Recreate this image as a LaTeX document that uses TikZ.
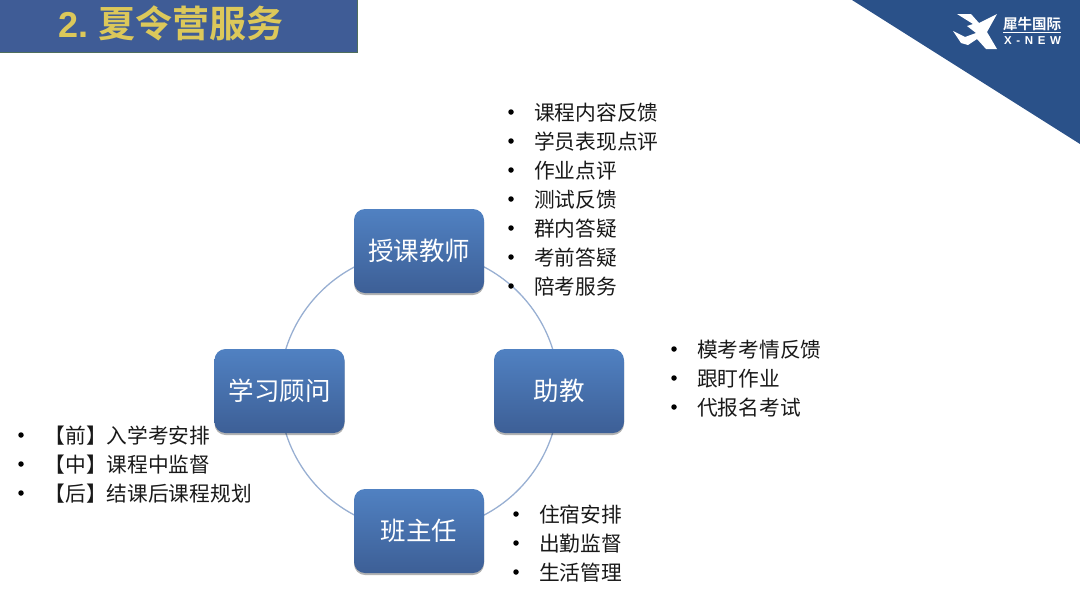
\documentclass[tikz,border=0pt]{standalone}
\usepackage{fontspec}
\setmainfont{Noto Sans CJK SC}
\newfontfamily\latinbold[Scale=1]{Liberation Sans}
\usetikzlibrary{shadows,backgrounds}
\definecolor{titlefill}{HTML}{3F5C96}
\definecolor{titleedge}{HTML}{4F6E5C}
\definecolor{titlegold}{HTML}{DCC85A}
\definecolor{cornerblue}{HTML}{2A5189}
\definecolor{ringblue}{HTML}{98AFD2}
\definecolor{boxtop}{HTML}{5081C2}
\definecolor{boxbot}{HTML}{3D5F96}
\tikzset{
  role/.style={rounded corners=11pt,minimum width=130pt,minimum height=84pt,inner sep=0pt,
    top color=boxtop,bottom color=boxbot,draw=none,text=white,
    font=\fontsize{25.5pt}{30pt}\selectfont,
    drop shadow={shadow xshift=0pt,shadow yshift=-2pt,opacity=.3,fill=black}},
  ring/.style={draw=ringblue,line width=1.3pt},
  item/.style={anchor=west,inner sep=0pt,text=black!90,font=\fontsize{20.7pt}{24pt}\selectfont},
  dot/.style={circle,fill=black,inner sep=0pt,minimum size=5.5pt}
}
\begin{document}
\begin{tikzpicture}[x=1pt,y=-1pt]
\useasboundingbox (0,0) rectangle (1080,603);
% title
\node[draw=titleedge,line width=1.2pt,fill=titlefill,anchor=north west,minimum width=358.5pt,minimum height=53.5pt,inner sep=0pt] (titlebox) at (-2,-1.5) {};
\node[anchor=west,inner sep=0pt,text=titlegold] (title) at (58,23) {{\latinbold\bfseries\fontsize{36pt}{40pt}\selectfont 2.}\hspace{10pt}{\fontspec{Noto Sans CJK SC Bold}\fontsize{37pt}{40pt}\selectfont 夏令营服务}};
% corner
\fill[cornerblue] (852,0) -- (1080,0) -- (1080,144) -- cycle;
% logo
\fill[white] (957,14) -- (971,14) -- (979,23) -- (997,14) -- (987,32) -- (997,49) -- (986,49) -- (977,39) -- (968,45) -- (961,43) -- (953,31) -- (965,37) -- (976,33) -- (967,26) -- (973,24) -- cycle;
\node[anchor=west,inner sep=0pt,text=white] (logocn) at (1003,23.5) {\fontspec{Noto Sans CJK SC Bold}\fontsize{14.5pt}{16pt}\selectfont 犀牛国际};
\draw[white,line width=.6pt] (logocn.south west) ++(0,1.5) -- ++(58,0);
\node[anchor=west,inner sep=0pt,text=white] (logoen) at (1004,41) {\latinbold\bfseries\fontsize{11.5pt}{14pt}\selectfont X\hspace{4.6pt}-\hspace{4.6pt}N\hspace{4.6pt}E\hspace{4.6pt}W};
% roles
\node[role] (teacher) at (419,251) {授课教师};
\node[role] (assist) at (559,391) {助教};
\node[role] (head) at (419,531) {班主任};
\node[role] (advisor) at (279.5,391) {学习顾问};
\begin{pgfonlayer}{background}
\draw[ring] (teacher.center) to[bend left=45] (assist.center);
\draw[ring] (assist.center) to[bend left=45] (head.center);
\draw[ring] (head.center) to[bend left=45] (advisor.center);
\draw[ring] (advisor.center) to[bend left=45] (teacher.center);
\end{pgfonlayer}
% lists
\foreach \n/\y/\t in {a/112/课程内容反馈,b/141/学员表现点评,c/170/作业点评,d/199/测试反馈,e/228/群内答疑,f/257/考前答疑,g/286/陪考服务}{
  \node[dot] (t\n d) at (511,\y) {};
  \node[item] (t\n) at (534,\y+0.3) {\t};
}
\foreach \n/\y/\t in {a/349/模考考情反馈,b/378/跟盯作业,c/407/代报名考试}{
  \node[dot] (r\n d) at (674,\y) {};
  \node[item] (r\n) at (697,\y+0.3) {\t};
}
\foreach \n/\y/\t in {a/514/住宿安排,b/543/出勤监督,c/572/生活管理}{
  \node[dot] (b\n d) at (516,\y) {};
  \node[item] (b\n) at (539,\y+0.3) {\t};
}
\foreach \n/\y/\t in {a/435/【前】入学考安排,b/464/【中】课程中监督,c/493/【后】结课后课程规划}{
  \node[dot] (l\n d) at (21,\y) {};
  \node[item] (l\n) at (44.5,\y+0.3) {\t};
}
\end{tikzpicture}
\end{document}
